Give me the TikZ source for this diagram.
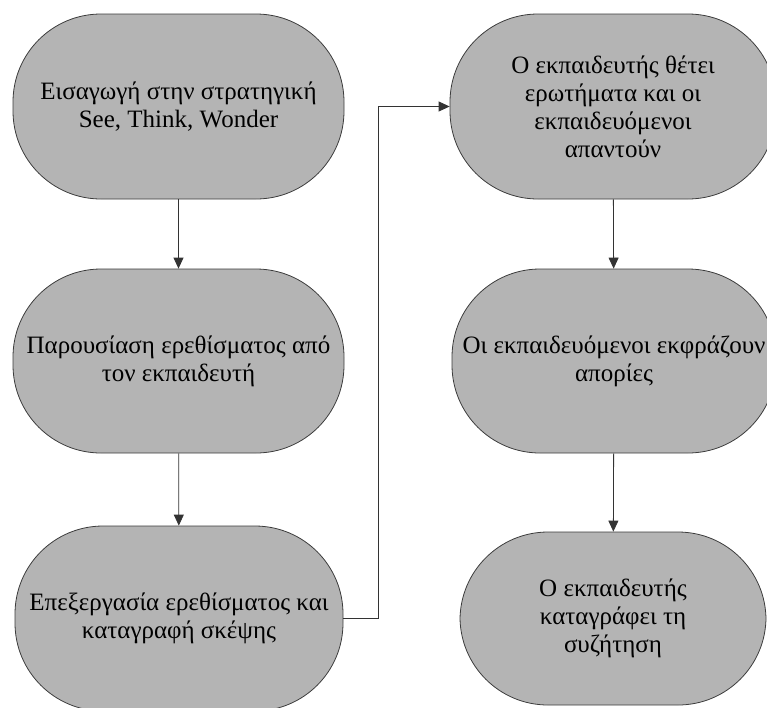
\documentclass[tikz,border=0pt]{standalone}
\usepackage{fontspec}
\setmainfont{Liberation Serif}
\usetikzlibrary{arrows.meta}
\definecolor{boxgray}{RGB}{180,180,180}
\definecolor{edgegray}{RGB}{60,60,60}
\begin{document}
\begin{tikzpicture}[x=1pt,y=-1pt,
  stepbox/.style={draw=edgegray, line width=0.8pt, fill=boxgray, rounded corners=88pt,
    inner sep=0pt, align=center, font=\fontsize{25}{28}\selectfont},
  conn/.style={draw=black!80, line width=0.8pt, -{Triangle[width=10pt,length=11pt]}}]
\useasboundingbox (0,0) rectangle (767,707);
\clip (0,0) rectangle (767,707);
\node[stepbox, minimum width=331pt, minimum height=185pt] (n1) at (178.5,106.5)
  {Εισαγωγή στην στρατηγική\\See, Think, Wonder};
\node[stepbox, minimum width=331pt, minimum height=184pt] (n2) at (178.5,361)
  {Παρουσίαση ερεθίσματος από\\τον εκπαιδευτή};
\node[stepbox, minimum width=328pt, minimum height=185pt] (n3) at (179,618.5)
  {Επεξεργασία ερεθίσματος και\\καταγραφή σκέψης};
\node[stepbox, minimum width=326pt, minimum height=185pt] (n4) at (613,106.5)
  {Ο εκπαιδευτής θέτει\\ερωτήματα και οι\\εκπαιδευόμενοι\\απαντούν};
\node[stepbox, minimum width=324pt, minimum height=184pt] (n5) at (614,361)
  {Οι εκπαιδευόμενοι εκφράζουν\\απορίες};
\node[stepbox, minimum width=306pt, minimum height=173pt] (n6) at (613,618.5)
  {Ο εκπαιδευτής\\καταγράφει τη\\συζήτηση};
\coordinate (bend) at (378,618.5);
\draw[conn] (n1) -- (n2);
\draw[conn] (n2) -- (n3);
\draw[conn] (n3.east) -- (bend) |- (n4.west);
\draw[conn] (n4) -- (n5);
\draw[conn] (n5) -- (n6);
\end{tikzpicture}
\end{document}
